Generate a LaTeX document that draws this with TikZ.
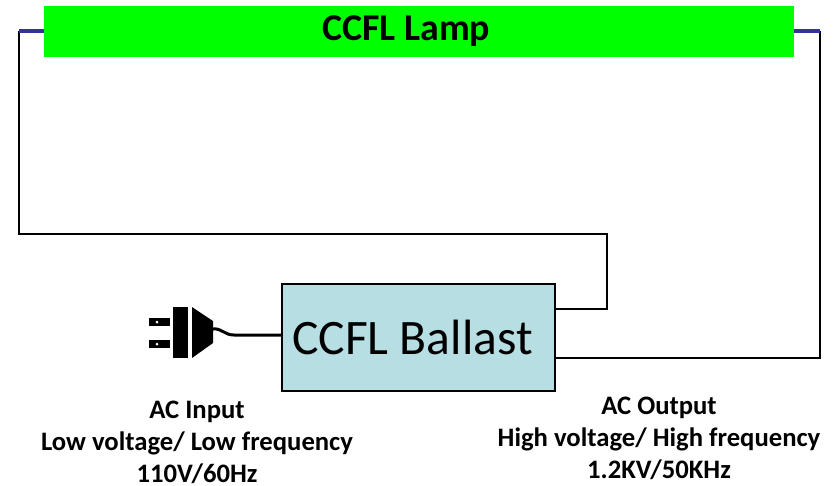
\documentclass[tikz,border=0pt]{standalone}
\usepackage{fontspec}
\setmainfont{Carlito}
\tikzset{
  lamp/.style={fill=lampgreen,inner sep=0pt,outer sep=0pt,minimum width=562.5pt,minimum height=38.25pt,font=\fontsize{28.4}{32}\selectfont\bfseries},
  ballast/.style={draw=black,line width=1.5pt,fill=ballastblue,inner sep=0pt,outer sep=0pt,minimum width=204.75pt,minimum height=80.25pt,font=\fontsize{37.2}{42}\selectfont},
  lead/.style={draw=leadblue,line width=3pt},
  wire/.style={draw=black,line width=1.5pt},
  cord/.style={draw=black,line width=2.25pt},
  caption/.style={align=center,inner sep=0pt,font=\fontsize{20}{24}\selectfont\bfseries},
  plugpart/.style={fill=black,inner sep=0pt,outer sep=0pt}
}
\definecolor{lampgreen}{RGB}{0,255,0}
\definecolor{ballastblue}{RGB}{183,222,226}
\definecolor{leadblue}{RGB}{51,51,153}
\begin{document}
\begin{tikzpicture}[x=0.75pt,y=-0.75pt]
\useasboundingbox (0,0) rectangle (833,486);
\node[lamp] (lamp) at (419,31.5) {\kern-19pt CCFL Lamp};
\node[ballast] (ball) at (418.5,337.5) {CCFL Ballast\kern9pt};
\coordinate (leadL) at (19,31);
\coordinate (leadR) at (820,31);
\coordinate (outA) at (555,309);
\coordinate (outB) at (555,358);
% wires
\draw[wire] (leadL) -- (19,234) -- (607,234) -- (607,309) -- (outA);
\draw[wire] (leadR) -- (outB -| leadR) -- (outB);
\draw[lead] (leadL) -- (leadL -| lamp.west);
\draw[lead] (leadR) -- (leadR -| lamp.east);
% plug
\node[plugpart,minimum width=15.75pt,minimum height=6pt] (pinA) at (159.5,322) {};
\node[plugpart,minimum width=15.75pt,minimum height=6pt] (pinB) at (159.5,344) {};
\fill[white] (157,322) circle (1.5);
\fill[white] (157,344) circle (1.5);
\node[plugpart,minimum width=11.25pt,minimum height=38.25pt] (plugbar) at (180.5,332.5) {};
\fill (192,307) -- (213,321) -- (213,343) -- (192,358) -- cycle;
\coordinate (plughead) at (213,329);
\draw[cord] (plughead) .. controls (222,328) and (224,335) .. (234,335) -- (ball.west |- 0,335);
% labels
\node[caption] (acin) at (197,442) {AC Input\\Low voltage/ Low frequency\\110V/60Hz};
\node[caption] (acout) at (659,438.5) {AC Output\\High voltage/ High frequency\\1.2KV/50KHz};
\end{tikzpicture}
\end{document}
